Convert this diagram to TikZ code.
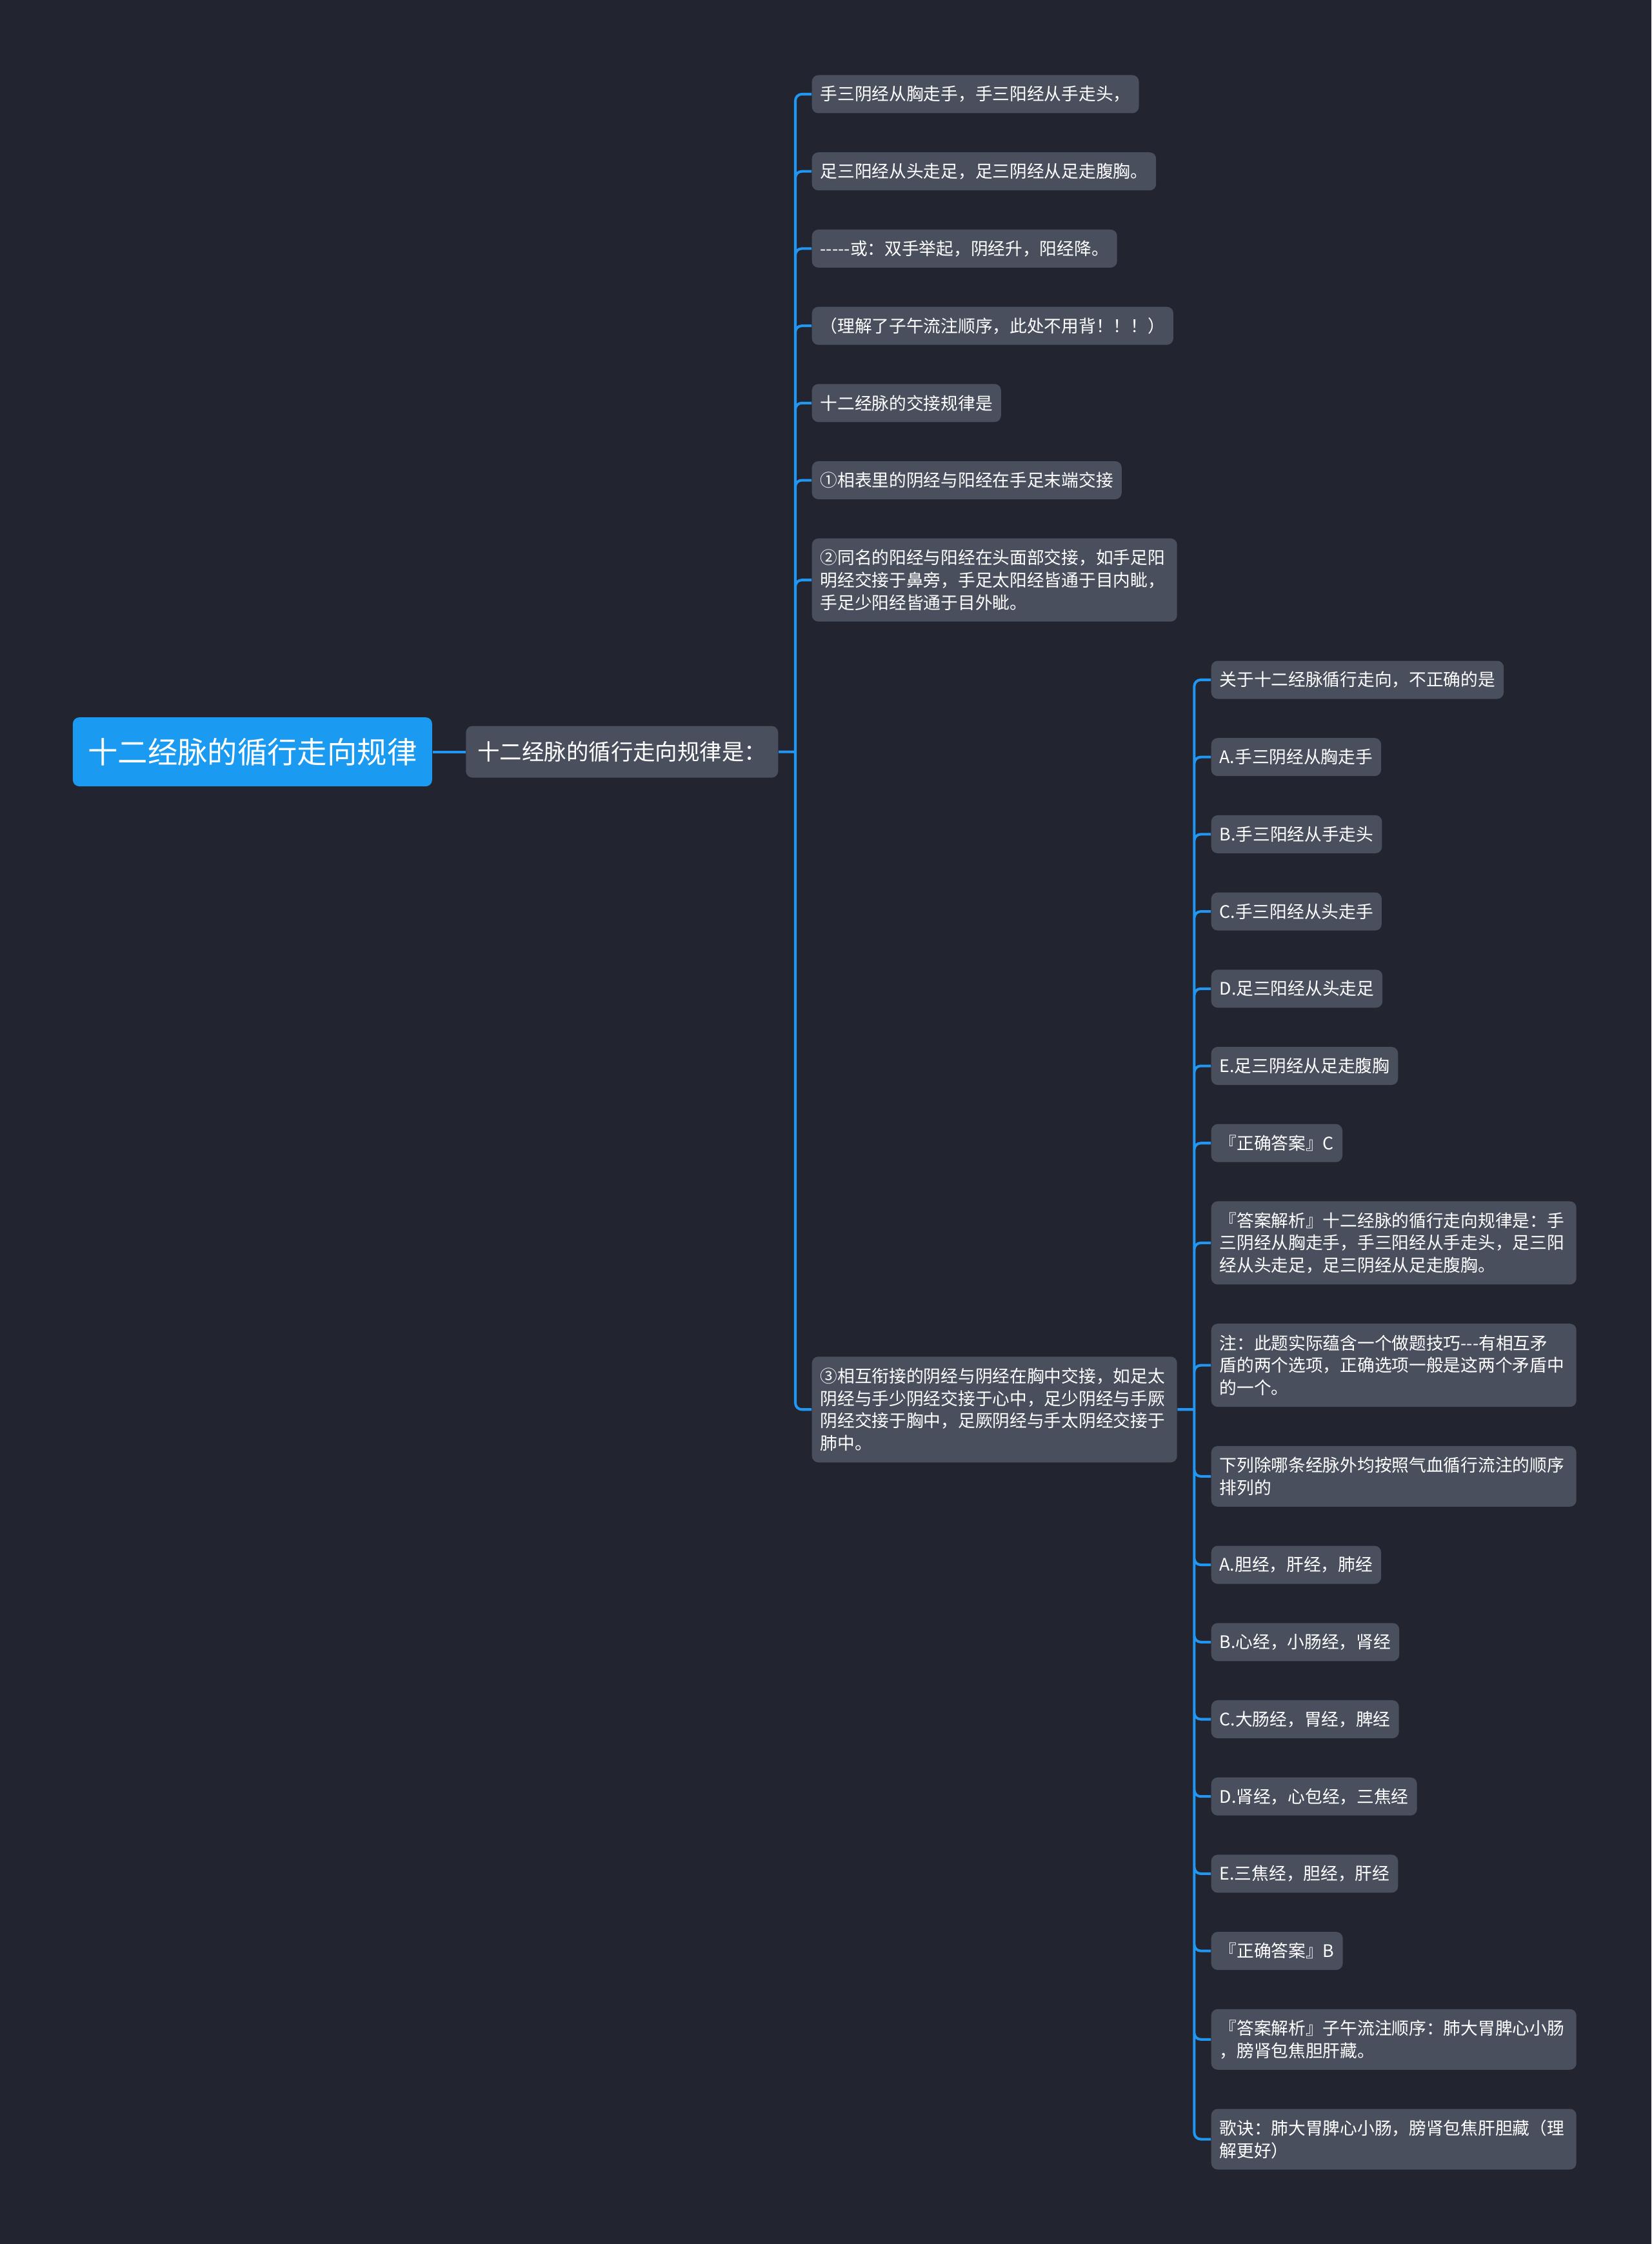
\documentclass[tikz,border=0pt]{standalone}
\usepackage{fontspec}
\setmainfont{Noto Sans CJK SC}[Ligatures=TeXOff]
\usetikzlibrary{positioning,calc}
\definecolor{bgnavy}{HTML}{22252F}
\definecolor{boxgray}{HTML}{4A4F5E}
\definecolor{rootblue}{HTML}{1A9AF0}
\definecolor{linkblue}{HTML}{2196F3}
\tikzstyle{topic} = [rectangle, rounded corners=1mm, minimum width=5.57cm, minimum height=1.07cm, text centered, fill=rootblue, text=white, font=\fontsize{13.2}{16}\selectfont]
\tikzstyle{branch} = [rectangle, rounded corners=1mm, minimum width=4.84cm, minimum height=0.8cm, text centered, fill=boxgray, text=white, font=\fontsize{9.8}{12}\selectfont]
\tikzstyle{leaf} = [rectangle, rounded corners=1mm, minimum height=0.59cm, inner xsep=1.3mm, inner ysep=0.5mm, fill=boxgray, text=white, font=\fontsize{7.6}{9.9}\selectfont]
\tikzstyle{leafwide} = [leaf, text width=5.4cm, align=left]
\tikzstyle{link} = [line width=1.15pt, draw=linkblue, rounded corners=1mm]

\begin{document}
\begin{tikzpicture}
  \fill[bgnavy] (0,0) rectangle (25.6,-34.79);
  \useasboundingbox (0,0) rectangle (25.6,-34.79);
  % how the channels run
  \node (rule1)[leaf, anchor=west] at (12.58,-1.46) {手三阴经从胸走手，手三阳经从手走头，};
  \node (rule2)[leaf, below right=5.93mm and 0mm of rule1.south west] {足三阳经从头走足，足三阴经从足走腹胸。};
  \node (rule3)[leaf, below right=5.93mm and 0mm of rule2.south west] {-----或：双手举起，阴经升，阳经降。};
  \node (rule4)[leaf, below right=5.93mm and 0mm of rule3.south west] {（理解了子午流注顺序，此处不用背！！！）};
  \node (rule5)[leaf, below right=5.93mm and 0mm of rule4.south west] {十二经脉的交接规律是};
  \node (rule6)[leaf, below right=5.93mm and 0mm of rule5.south west] {①相表里的阴经与阳经在手足末端交接};
  \node (rule7)[leafwide, minimum height=1.29cm, below right=5.93mm and 0mm of rule6.south west] {②同名的阳经与阳经在头面部交接，如手足阳\\明经交接于鼻旁，手足太阳经皆通于目内眦，\\手足少阳经皆通于目外眦。};
  % first question
  \node (q1)[leaf, anchor=west] at (18.77,-10.54) {关于十二经脉循行走向，不正确的是};
  \node (q1a)[leaf, below right=5.93mm and 0mm of q1.south west] {A.手三阴经从胸走手};
  \node (q1b)[leaf, below right=5.93mm and 0mm of q1a.south west] {B.手三阳经从手走头};
  \node (q1c)[leaf, below right=5.93mm and 0mm of q1b.south west] {C.手三阳经从头走手};
  \node (q1d)[leaf, below right=5.93mm and 0mm of q1c.south west] {D.足三阳经从头走足};
  \node (q1e)[leaf, below right=5.93mm and 0mm of q1d.south west] {E.足三阴经从足走腹胸};
  \node (ans1)[leaf, below right=5.93mm and 0mm of q1e.south west] {『正确答案』C};
  \node (exp1)[leafwide, minimum height=1.29cm, below right=5.93mm and 0mm of ans1.south west] {『答案解析』十二经脉的循行走向规律是：手\\三阴经从胸走手，手三阳经从手走头，足三阳\\经从头走足，足三阴经从足走腹胸。};
  \node (note)[leafwide, minimum height=1.29cm, below right=5.93mm and 0mm of exp1.south west] {注：此题实际蕴含一个做题技巧---有相互矛\\盾的两个选项，正确选项一般是这两个矛盾中\\的一个。};
  % second question
  \node (q2)[leafwide, minimum height=0.94cm, below right=5.93mm and 0mm of note.south west] {下列除哪条经脉外均按照气血循行流注的顺序\\排列的};
  \node (q2a)[leaf, below right=5.93mm and 0mm of q2.south west] {A.胆经，肝经，肺经};
  \node (q2b)[leaf, below right=5.93mm and 0mm of q2a.south west] {B.心经，小肠经，肾经};
  \node (q2c)[leaf, below right=5.93mm and 0mm of q2b.south west] {C.大肠经，胃经，脾经};
  \node (q2d)[leaf, below right=5.93mm and 0mm of q2c.south west] {D.肾经，心包经，三焦经};
  \node (q2e)[leaf, below right=5.93mm and 0mm of q2d.south west] {E.三焦经，胆经，肝经};
  \node (ans2)[leaf, below right=5.93mm and 0mm of q2e.south west] {『正确答案』B};
  \node (exp2)[leafwide, minimum height=0.94cm, below right=5.93mm and 0mm of ans2.south west] {『答案解析』子午流注顺序：肺大胃脾心小肠\\，膀肾包焦胆肝藏。};
  \node (song)[leafwide, minimum height=0.94cm, below right=5.93mm and 0mm of exp2.south west] {歌诀：肺大胃脾心小肠，膀肾包焦肝胆藏（理\\解更好）};
  % the parents sit in the middle of their children
  \coordinate (mid2) at ($(q1.west)!0.5!(song.west)$);
  \node (rule8)[leafwide, minimum height=1.64cm, anchor=west] at (rule1.west |- mid2) {③相互衔接的阴经与阴经在胸中交接，如足太\\阴经与手少阴经交接于心中，足少阴经与手厥\\阴经交接于胸中，足厥阴经与手太阴经交接于\\肺中。};
  \coordinate (mid1) at ($(rule1.west)!0.5!(rule8.west)$);
  \node (sub1)[branch, anchor=east] at ($(rule1.west |- mid1)+(-0.51,0)$) {十二经脉的循行走向规律是：};
  \node (root)[topic, left=0.51cm of sub1] {十二经脉的循行走向规律};
  \coordinate (j1) at ($(sub1.east)+(0.26,0)$);
  \coordinate (j2) at ($(rule8.east)+(0.26,0)$);
  \draw[link] (root) -- (sub1);
  \draw[link] (sub1.east) -- (j1) (j1) |- (rule1.west) (j1) |- (rule2.west) (j1) |- (rule3.west) (j1) |- (rule4.west) (j1) |- (rule5.west) (j1) |- (rule6.west) (j1) |- (rule7.west) (j1) |- (rule8.west);
  \draw[link] (rule8.east) -- (j2) (j2) |- (q1.west) (j2) |- (q1a.west) (j2) |- (q1b.west) (j2) |- (q1c.west) (j2) |- (q1d.west) (j2) |- (q1e.west) (j2) |- (ans1.west) (j2) |- (exp1.west) (j2) |- (note.west) (j2) |- (q2.west) (j2) |- (q2a.west) (j2) |- (q2b.west) (j2) |- (q2c.west) (j2) |- (q2d.west) (j2) |- (q2e.west) (j2) |- (ans2.west) (j2) |- (exp2.west) (j2) |- (song.west);
\end{tikzpicture}
\end{document}
